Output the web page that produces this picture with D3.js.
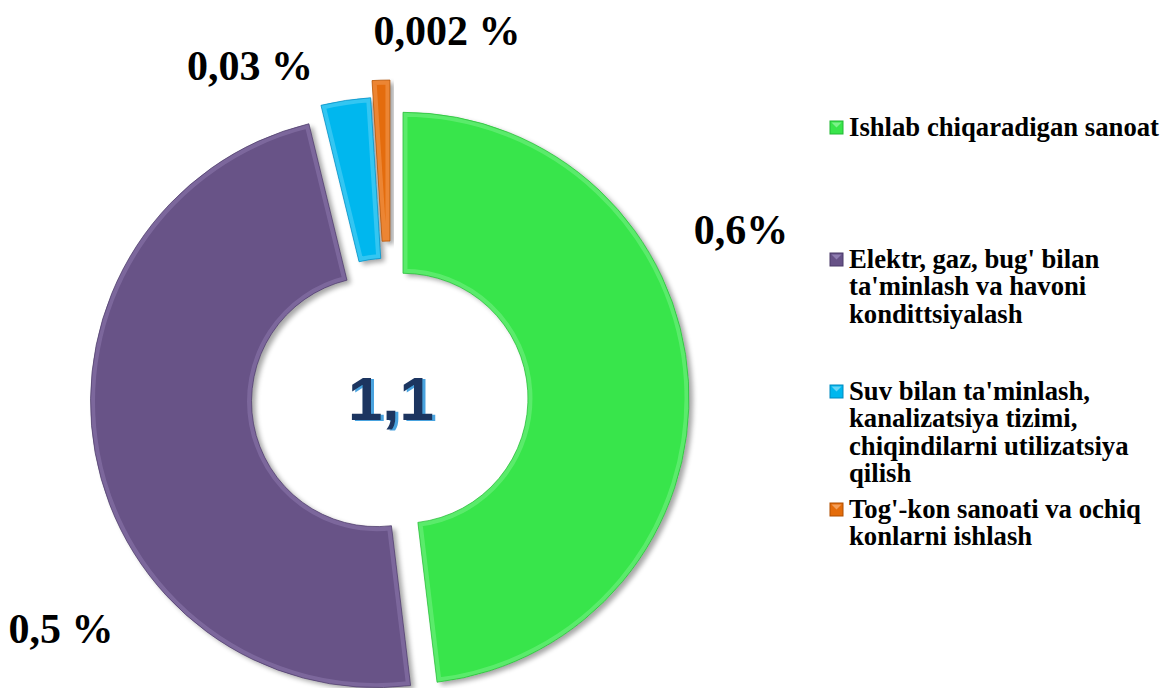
<!DOCTYPE html>
<html>
<head>
<meta charset="utf-8">
<style>
  body { margin: 0; background: #fff; }
  svg { display: block; }
</style>
</head>
<body>
<svg width="1163" height="688"></svg>
<script src="https://d3js.org/d3.v7.min.js"></script>
<script>

// data (slice shares by angle, labels as printed)
var categories = [
  "Ishlab chiqaradigan sanoat",
  "Elektr, gaz, bug' bilan ta'minlash va havoni konditsiyalash",
  "Suv bilan ta'minlash, kanalizatsiya tizimi, chiqindilarni utilizatsiya qilish",
  "Tog'-kon sanoati va ochiq konlarni ishlash"
];
var shares = [48.1, 48.1, 2.8, 1.0];
var valueLabels = ["0,6%", "0,5 %", "0,03 %", "0,002 %"];
var totalLabel = "1,1";
var legendLines = [
  ["Ishlab chiqaradigan sanoat"],
  ["Elektr, gaz, bug' bilan", "ta'minlash va havoni", "kondittsiyalash"],
  ["Suv bilan ta'minlash,", "kanalizatsiya tizimi,", "chiqindilarni utilizatsiya", "qilish"],
  ["Tog'-kon sanoati va ochiq", "konlarni ishlash"]
];

// look
var colors = ["#39e54b", "#675287", "#00b7ee", "#e46c0a"];
var darker = ["#23b834", "#4b3a68", "#0089bf", "#b04f00"];
var lighter = ["#8ff59a", "#9a88bb", "#7fdcf8", "#f7ad6e"];
var explode = [12, 14.7, 16, 33];
var labelPos = [[741, 244], [61, 643], [250, 80], [447, 45]];
var legendY = [136, 268, 400, 518];

var svg = d3.select("svg"),
    cx = 391, cy = 399,
    outerR = 286, innerR = 125;

var defs = svg.append("defs");
var shadow = defs.append("filter").attr("id", "shadow")
    .attr("x", "-20%").attr("y", "-20%").attr("width", "140%").attr("height", "140%");
shadow.append("feGaussianBlur").attr("in", "SourceAlpha").attr("stdDeviation", 2.5).attr("result", "b");
shadow.append("feOffset").attr("in", "b").attr("dx", 4).attr("dy", 3).attr("result", "o");
shadow.append("feComponentTransfer").attr("in", "o").attr("result", "s")
  .append("feFuncA").attr("type", "linear").attr("slope", 0.35);
var m = shadow.append("feMerge");
m.append("feMergeNode").attr("in", "s");
m.append("feMergeNode").attr("in", "SourceGraphic");

// light blue edge behind the centre number
var shade = defs.append("filter").attr("id", "shade")
    .attr("x", "-10%").attr("y", "-10%").attr("width", "120%").attr("height", "120%");
shade.append("feFlood").attr("flood-color", "#4aa3df").attr("result", "c");
shade.append("feComposite").attr("in", "c").attr("in2", "SourceAlpha").attr("operator", "in").attr("result", "t");
shade.append("feOffset").attr("in", "t").attr("dx", 3).attr("dy", 1).attr("result", "to");
var m2 = shade.append("feMerge");
m2.append("feMergeNode").attr("in", "to");
m2.append("feMergeNode").attr("in", "SourceGraphic");

var pie = d3.pie().sort(null).value(function(d) { return d; });
var arc = d3.arc().innerRadius(innerR).outerRadius(outerR);
var arcs = pie(shares);

var g = svg.append("g").attr("transform", "translate(" + cx + "," + cy + ")");

var slice = g.selectAll(".slice")
  .data(arcs)
  .enter().append("g")
    .attr("class", "slice")
    .attr("transform", function(d, i) {
      var a = (d.startAngle + d.endAngle) / 2;
      return "translate(" + (Math.sin(a) * explode[i]) + "," + (-Math.cos(a) * explode[i]) + ")";
    });

slice.append("clipPath")
    .attr("id", function(d, i) { return "clip" + i; })
  .append("path")
    .attr("d", arc);

slice.append("path")
    .attr("d", arc)
    .attr("fill", function(d, i) { return colors[i]; })
    .attr("filter", "url(#shadow)");

// soft bevel: light inner rim, dark outer edge
slice.append("path")
    .attr("d", arc)
    .attr("fill", "none")
    .attr("clip-path", function(d, i) { return "url(#clip" + i + ")"; })
    .attr("stroke", function(d, i) { return lighter[i]; })
    .attr("stroke-width", 9)
    .attr("stroke-opacity", 0.4)
    .attr("stroke-linejoin", "miter");

slice.append("path")
    .attr("d", arc)
    .attr("fill", "none")
    .attr("stroke", function(d, i) { return darker[i]; })
    .attr("stroke-width", 1)
    .attr("stroke-opacity", 0.7);

// value labels
svg.selectAll(".vlabel")
  .data(valueLabels)
  .enter().append("text")
    .attr("class", "vlabel")
    .attr("x", function(d, i) { return labelPos[i][0]; })
    .attr("y", function(d, i) { return labelPos[i][1]; })
    .attr("text-anchor", "middle")
    .attr("font-family", "'Liberation Serif', 'Times New Roman', serif")
    .attr("font-weight", "bold")
    .attr("font-size", 42)
    .attr("fill", "#000")
    .text(function(d) { return d; });

// centre total
svg.append("text")
    .attr("x", cx).attr("y", cy + 21)
    .attr("text-anchor", "middle")
    .attr("font-family", "'Liberation Sans', Arial, sans-serif")
    .attr("font-weight", "bold")
    .attr("font-size", 62)
    .attr("fill", "#1b3560")
    .attr("filter", "url(#shade)")
    .text(totalLabel);

// legend
var legend = svg.selectAll(".legend")
  .data(legendLines)
  .enter().append("g")
    .attr("class", "legend")
    .attr("transform", function(d, i) { return "translate(830," + legendY[i] + ")"; });

legend.append("rect")
    .attr("x", 0).attr("y", -15)
    .attr("width", 13).attr("height", 13)
    .attr("fill", function(d, i) { return colors[i]; })
    .attr("stroke", function(d, i) { return darker[i]; })
    .attr("stroke-width", 1);

legend.append("path")
    .attr("d", "M1.5,-13.5 L11.5,-13.5 L6.5,-8.5 Z")
    .attr("fill", function(d, i) { return lighter[i]; })
    .attr("opacity", 0.8);

legend.append("text")
    .attr("font-family", "'Liberation Serif', 'Times New Roman', serif")
    .attr("font-weight", "bold")
    .attr("font-size", 26.7)
    .attr("fill", "#000")
  .selectAll("tspan")
  .data(function(d) { return d; })
  .enter().append("tspan")
    .attr("x", 19)
    .attr("y", function(d, i) { return i * 27.3; })
    .text(function(d) { return d; });

</script>
</body>
</html>
